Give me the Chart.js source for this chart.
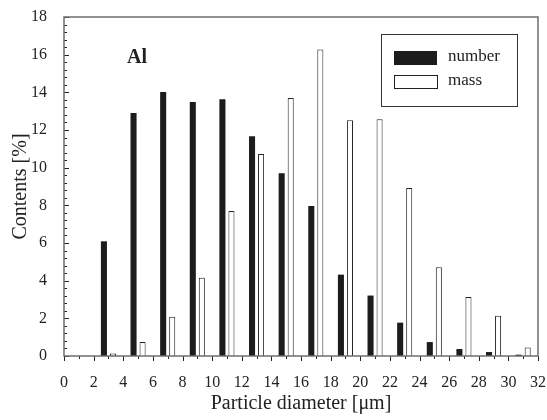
<!DOCTYPE html>
<html>
<head>
<meta charset="utf-8">
<script src="https://cdn.jsdelivr.net/npm/chart.js@4"></script>
<style>
  html, body { margin: 0; padding: 0; background: #fff; }
  #wrap { width: 547px; height: 420px; }
</style>
</head>
<body>
<div id="wrap"><canvas id="myChart" width="547" height="420"></canvas></div>
<script>
var diameters = [3, 5, 7, 9, 11, 13, 15, 17, 19, 21, 23, 25, 27, 29, 31];
var numberValues = [6.09, 12.9, 14.02, 13.49, 13.63, 11.67, 9.70, 7.97, 4.32, 3.21, 1.77, 0.74, 0.37, 0.21, 0.07];
var massValues = [0.13, 0.74, 2.09, 4.16, 7.70, 10.73, 13.70, 16.27, 12.52, 12.57, 8.92, 4.71, 3.13, 2.14, 0.45];
var seriesLabels = ["number", "mass"];
var panelLabel = "Al";

var serif = "'Liberation Serif', 'DejaVu Serif', serif";
var ink = "#222";

function points(vals) {
  return diameters.map(function (d, i) { return { x: d, y: vals[i] }; });
}

// inward ticks on y, outward on x, box frame, legend box and panel label
var decorations = {
  id: "decorations",
  afterDraw: function (chart) {
    var ctx = chart.ctx, a = chart.chartArea;
    var xs = chart.scales.x, ys = chart.scales.y;
    ctx.save();
    ctx.strokeStyle = ink;
    ctx.lineWidth = 1;
    ctx.beginPath();
    for (var v = 0; v <= 18.001; v += 0.4) {
      var py = Math.round(ys.getPixelForValue(v)) + 0.5;
      var major = Math.abs(v / 2 - Math.round(v / 2)) < 0.01;
      ctx.moveTo(a.left, py);
      ctx.lineTo(a.left + (major ? 5 : 3), py);
    }
    for (var k = 0; k <= 32; k++) {
      var px = Math.round(xs.getPixelForValue(k)) + 0.5;
      ctx.moveTo(px, a.bottom);
      ctx.lineTo(px, a.bottom + (k % 2 === 0 ? 5 : 3));
    }
    ctx.stroke();

    ctx.strokeStyle = "#6e6e6e";
    ctx.lineWidth = 1.5;
    ctx.strokeRect(a.left, a.top, a.right - a.left, a.bottom - a.top);

    // legend
    var bx = a.right - 157, by = a.top + 17;
    ctx.strokeStyle = "#333";
    ctx.lineWidth = 1;
    ctx.strokeRect(bx + 0.5, by + 0.5, 136, 72);
    var ds = chart.data.datasets;
    ctx.font = "17px " + serif;
    ctx.textBaseline = "middle";
    ctx.fillStyle = ds[0].backgroundColor;
    ctx.fillRect(bx + 13, by + 17, 43, 14);
    ctx.fillStyle = ds[1].backgroundColor;
    ctx.fillRect(bx + 13.5, by + 41.5, 43, 13);
    ctx.strokeStyle = ds[1].borderColor;
    ctx.strokeRect(bx + 13.5, by + 41.5, 43, 13);
    ctx.fillStyle = ink;
    ctx.fillText(ds[0].label, bx + 67, by + 23);
    ctx.fillText(ds[1].label, bx + 67, by + 47);

    ctx.font = "bold 20px " + serif;
    ctx.textBaseline = "alphabetic";
    ctx.fillText(panelLabel, a.left + 63, a.top + 46);
    ctx.restore();
  }
};

new Chart("myChart", {
  type: "bar",
  data: {
    datasets: [{
      label: seriesLabels[0],
      data: points(numberValues),
      backgroundColor: "#1c1c1c",
      borderWidth: 0
    }, {
      label: seriesLabels[1],
      data: points(massValues),
      backgroundColor: "#ffffff",
      borderColor: "#222",
      borderWidth: 1
    }]
  },
  options: {
    responsive: false,
    animation: false,
    datasets: { bar: { categoryPercentage: 0.61, barPercentage: 0.67 } },
    layout: { padding: { top: 17, right: 9, left: 0, bottom: 0 } },
    plugins: {
      legend: { display: false },
      tooltip: { enabled: false }
    },
    scales: {
      x: {
        type: "linear",
        min: 0, max: 32,
        offset: false,
        grid: { display: false },
        border: { display: false },
        ticks: { stepSize: 2, color: ink, padding: 9, maxRotation: 0, font: { family: serif, size: 16 } },
        title: { display: true, text: "Particle diameter [μm]", color: ink, padding: { top: 0, bottom: 4 }, font: { family: serif, size: 20 } },
        afterFit: function (s) { s.height = 64; s.paddingLeft = 0; s.paddingRight = 0; }
      },
      y: {
        min: 0, max: 18,
        grid: { display: false },
        border: { display: false },
        ticks: { stepSize: 2, color: ink, padding: 9, font: { family: serif, size: 16 } },
        title: { display: true, text: "Contents [%]", color: ink, padding: { top: 9, bottom: 0 }, font: { family: serif, size: 20 } },
        afterFit: function (s) { s.width = 64; s.paddingTop = 0; s.paddingBottom = 0; }
      }
    }
  },
  plugins: [decorations]
});
</script>
</body>
</html>
